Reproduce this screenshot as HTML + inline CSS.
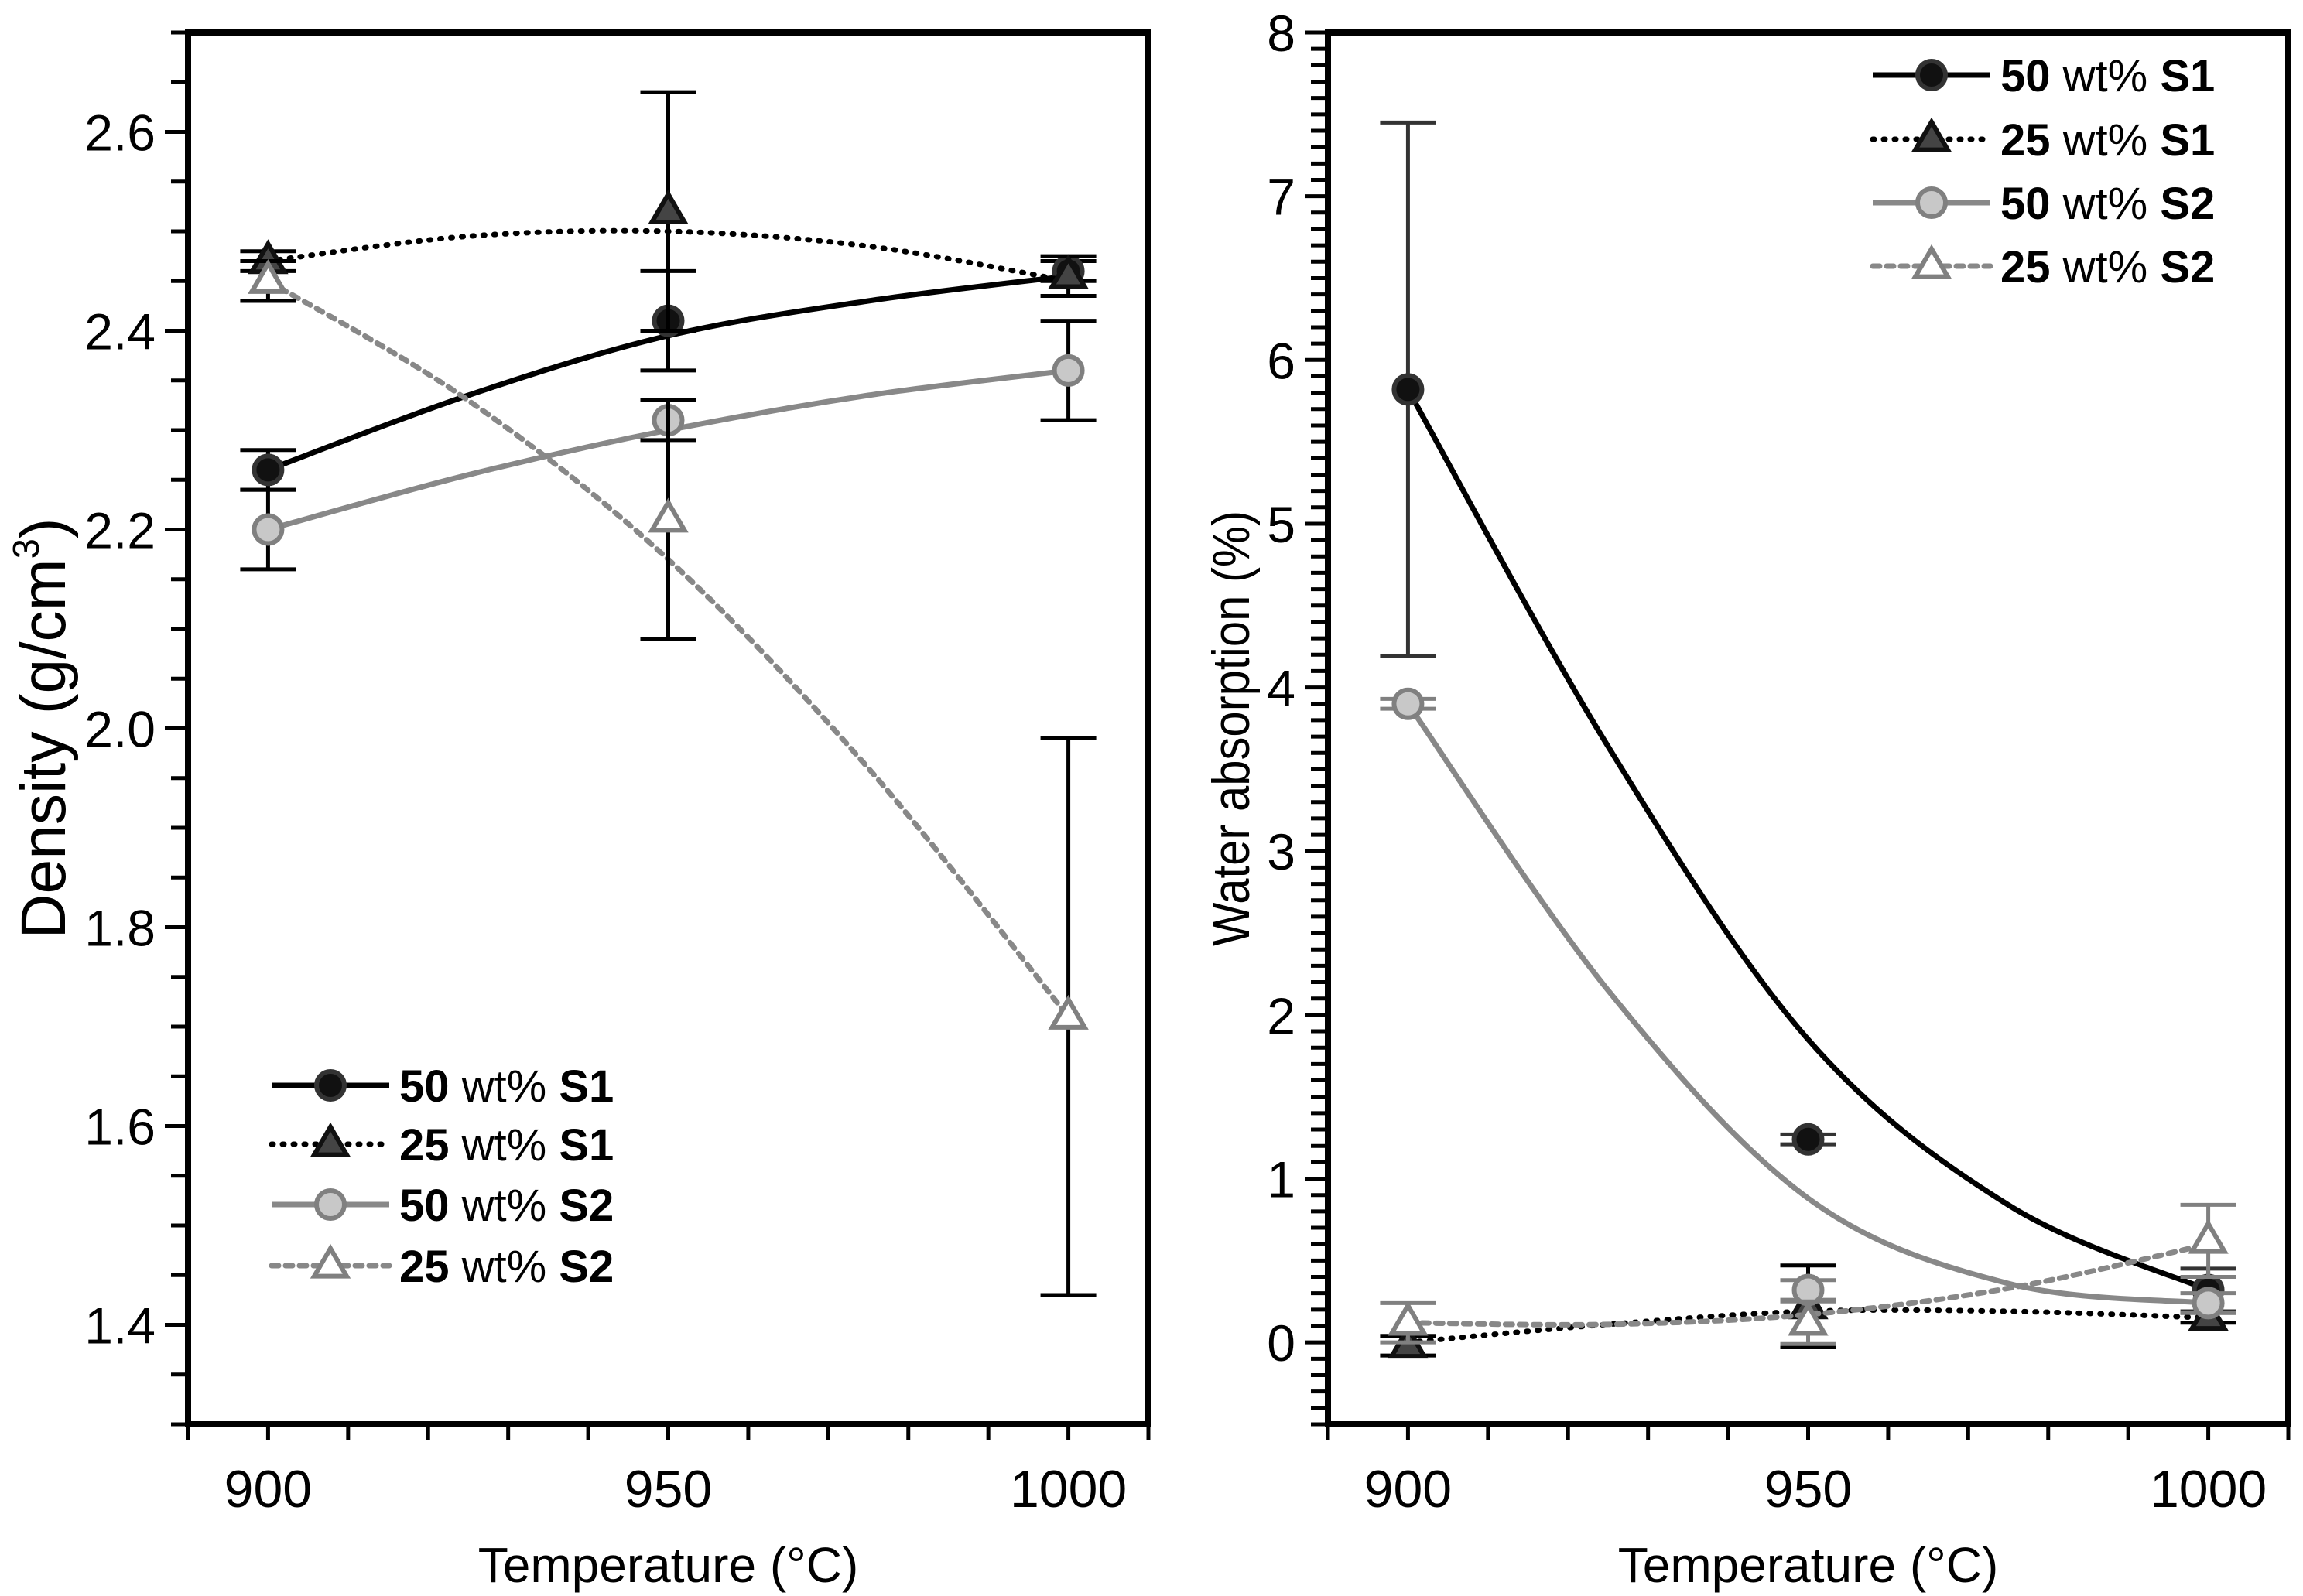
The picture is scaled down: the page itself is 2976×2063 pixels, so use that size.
<!DOCTYPE html>
<html><head><meta charset="utf-8"><style>
html,body{margin:0;padding:0;background:#fff;}
svg{display:block;}
text{font-family:"Liberation Sans",Arial,sans-serif;}
</style></head><body>
<svg id="fig" width="2976" height="2063" viewBox="0 0 2976 2063" xmlns="http://www.w3.org/2000/svg"></svg>
<script>
// ---------- data ----------
const temps = [900, 950, 1000];
const fitTemps = [900, 925, 950, 975, 1000];
// Density (left)
const dens50S1 = [2.26, 2.41, 2.46];
const dens50S1Err = [0.02, 0.05, 0.01];
const dens50S1Fit = [2.26, 2.335, 2.395, 2.43, 2.455];
const dens25S1 = [2.47, 2.52, 2.455];
const dens25S1Err = [0.01, 0.12, 0.02];
const dens25S1Fit = [2.47, 2.495, 2.50, 2.485, 2.45];
const dens50S2 = [2.20, 2.31, 2.36];
const dens50S2Err = [0.04, 0.02, 0.05];
const dens50S2Fit = [2.20, 2.255, 2.30, 2.335, 2.36];
const dens25S2 = [2.45, 2.21, 1.71];
const dens25S2Err = [0.02, 0.12, 0.28];
const dens25S2Fit = [2.45, 2.33, 2.17, 1.96, 1.71];
// Water absorption (right)
const wa50S1 = [5.82, 1.24, 0.32];
const wa50S1Err = [1.63, 0.03, 0.13];
const wa50S1Fit = [5.82, 3.64, 1.85, 0.84, 0.32];
const wa25S1 = [-0.02, 0.22, 0.15];
const wa25S1Err = [0.06, 0.25, 0.03];
const wa25S1Fit = [0.0, 0.11, 0.19, 0.19, 0.15];
const wa50S2 = [3.90, 0.32, 0.24];
const wa50S2Err = [0.03, 0.06, 0.06];
const wa50S2Fit = [3.90, 2.15, 0.88, 0.36, 0.24];
const wa25S2 = [0.12, 0.12, 0.62];
const wa25S2Err = [0.12, 0.13, 0.22];
const wa25S2Fit = [0.12, 0.11, 0.17, 0.33, 0.60];
const leftYTicks = ["1.4","1.6","1.8","2.0","2.2","2.4","2.6"];
const rightYTicks = ["0","1","2","3","4","5","6","7","8"];
const xTickLabels = ["900","950","1000"];

const NS = "http://www.w3.org/2000/svg";
const svg = document.getElementById('fig');
function el(tag, attrs, parent){
  const e = document.createElementNS(NS, tag);
  for (const k in attrs) e.setAttribute(k, attrs[k]);
  (parent||svg).appendChild(e);
  return e;
}
function catmull(pts){
  let d = 'M' + pts[0][0].toFixed(1) + ',' + pts[0][1].toFixed(1);
  for (let i=0;i<pts.length-1;i++){
    const p0 = pts[Math.max(0,i-1)], p1 = pts[i], p2 = pts[i+1], p3 = pts[Math.min(pts.length-1,i+2)];
    const c1x = p1[0] + (p2[0]-p0[0])/6, c1y = p1[1] + (p2[1]-p0[1])/6;
    const c2x = p2[0] - (p3[0]-p1[0])/6, c2y = p2[1] - (p3[1]-p1[1])/6;
    d += `C${c1x.toFixed(1)},${c1y.toFixed(1)} ${c2x.toFixed(1)},${c2y.toFixed(1)} ${p2[0].toFixed(1)},${p2[1].toFixed(1)}`;
  }
  return d;
}

function makePanel(cfg){
  const g = el('g', {});
  
  
  const {x0,x1,y0,y1,xmin,xmax,ymin,ymax} = cfg;
  const sx = v => x0 + (v - xmin)/(xmax - xmin)*(x1 - x0);
  const sy = v => y1 - (v - ymin)/(ymax - ymin)*(y1 - y0);
  const ty = el('g', {stroke:'#000','stroke-width':5}, g);
  
  
  const nMinor = Math.round((ymax - ymin)/cfg.yMinor);
  for (let i=0;i<=nMinor;i++){
    const v = ymin + i*cfg.yMinor;
    const isMaj = Math.abs((v - cfg.yMajorStart)/cfg.yMajor - Math.round((v - cfg.yMajorStart)/cfg.yMajor)) < 1e-6;
    el('line',{x1:x0 - (isMaj?30:22), x2:x0, y1:sy(v), y2:sy(v)}, ty);
  }
  cfg.yLabels.forEach(s=>{
    const v = parseFloat(s);
    const t = el('text',{x:x0-42, y:sy(v)+24, 'text-anchor':'end','font-size':66, fill:'#000'}, g);
    t.textContent = s;
    
    
  });
  const tx = el('g', {stroke:'#000','stroke-width':5}, g);
  
  
  for (let v=xmin; v<=xmax+0.01; v+=10){
    el('line',{x1:sx(v), x2:sx(v), y1:y1, y2:y1+20}, tx);
  }
  xTickLabels.forEach(s=>{
    const v = parseFloat(s);
    const t = el('text',{x:sx(v), y:1948, 'text-anchor':'middle','font-size':68, fill:'#000'}, g);
    t.textContent = s;
    
    
  });
  const xt = el('text',{x:(x0+x1)/2, y:2045, 'text-anchor':'middle','font-size':64, fill:'#000'}, g);
  xt.textContent = 'Temperature (°C)';
  
  
  const ytt = el('text',{x:0, y:0, 'text-anchor':'middle','font-size':cfg.yTitleSize, fill:'#000',
    transform:`translate(${cfg.yTitleX},${(y0+y1)/2}) rotate(-90) scale(${cfg.yTitleScale},1)`}, g);
  
  
  ytt.innerHTML = cfg.yTitle;

  cfg.series.forEach(s=>{
    const sg = el('g',{}, g);
    
    
    const pts = s.fit.map((v,i)=>[sx(fitTemps[i]), sy(v)]);
    const fl = el('path',{d:catmull(pts), fill:'none', stroke:s.lineColor, 'stroke-width':7, 'stroke-dasharray':s.dash||'none', 'stroke-linecap':s.dash?'round':'butt'}, sg);
    
    
    s.vals.forEach((v,i)=>{
      const e = s.err[i];
      const eg = el('g',{stroke:cfg.errColor||s.errColor,'stroke-width':5}, sg);
      
      
      const cx = sx(temps[i]);
      el('line',{x1:cx,x2:cx,y1:sy(v-e),y2:sy(v+e)}, eg);
      el('line',{x1:cx-36,x2:cx+36,y1:sy(v-e),y2:sy(v-e)}, eg);
      el('line',{x1:cx-36,x2:cx+36,y1:sy(v+e),y2:sy(v+e)}, eg);
    });
    s.vals.forEach((v,i)=>{
      const m = drawMarker(sg, s, sx(temps[i]), sy(v));
      
      
    });
  });
  const fr = el('rect',{x:x0,y:y0,width:x1-x0,height:y1-y0,fill:'none',stroke:'#000','stroke-width':8}, g);
  
  
  const lg = el('g',{}, g);
  
  
  cfg.series.forEach((s,i)=>{
    const yy = cfg.legY[i];
    const eg = el('g',{}, lg);
    
    
    el('line',{x1:cfg.legX, x2:cfg.legX+152, y1:yy, y2:yy, stroke:s.lineColor,'stroke-width':7,'stroke-dasharray':s.dash||'none','stroke-linecap':s.dash?'round':'butt'}, eg);
    drawMarker(eg, s, cfg.legX+76, yy);
    const t = el('text',{x:cfg.legX+165, y:yy+21,'font-size':58, fill:'#000'}, eg);
    t.innerHTML = `<tspan font-weight="bold">${s.pct}</tspan> wt% <tspan font-weight="bold">${s.sname}</tspan>`;
  });
}
function drawMarker(parent, s, cx, cy){
  if (s.shape==='circle'){
    return el('circle',{cx,cy,r:18,fill:s.fill,stroke:s.stroke,'stroke-width':6}, parent);
  }
  const h=36, w=42;
  return el('path',{d:`M${cx},${cy-h*0.62}L${cx+w/2},${cy+h*0.38}L${cx-w/2},${cy+h*0.38}Z`, fill:s.fill, stroke:s.stroke,'stroke-width':6,'stroke-linejoin':'miter'}, parent);
}
const styles = [
  {key:'50wt-s1', pct:'50', sname:'S1', shape:'circle', fill:'#111', stroke:'#333', lineColor:'#000', errColor:'#333'},
  {key:'25wt-s1', pct:'25', sname:'S1', shape:'tri', fill:'#444', stroke:'#111', lineColor:'#000', dash:'2 12', errColor:'#000'},
  {key:'50wt-s2', pct:'50', sname:'S2', shape:'circle', fill:'#c8c8c8', stroke:'#808080', lineColor:'#888', errColor:'#808080'},
  {key:'25wt-s2', pct:'25', sname:'S2', shape:'tri', fill:'#fff', stroke:'#808080', lineColor:'#888', dash:'9 9', errColor:'#808080'}
];
const leftData = [[dens50S1,dens50S1Err,dens50S1Fit],[dens25S1,dens25S1Err,dens25S1Fit],[dens50S2,dens50S2Err,dens50S2Fit],[dens25S2,dens25S2Err,dens25S2Fit]];
const rightData = [[wa50S1,wa50S1Err,wa50S1Fit],[wa25S1,wa25S1Err,wa25S1Fit],[wa50S2,wa50S2Err,wa50S2Fit],[wa25S2,wa25S2Err,wa25S2Fit]];
makePanel({name:'density-chart', x0:243,x1:1484,y0:42,y1:1841, xmin:890,xmax:1010, ymin:1.3,ymax:2.7,
  yMinor:0.05, yMajor:0.2, yMajorStart:1.4, yLabels:leftYTicks, errColor:'#000',
  yTitle:'Density (g/cm<tspan dy="-34" font-size="48">3</tspan><tspan dy="34">)</tspan>', yTitleX:84,
  yTitleSize:82, yTitleScale:0.98,
  legX:351, legY:[1403,1479,1557,1636],
  series: styles.map((s,i)=>Object.assign({}, s, {vals:leftData[i][0], err:leftData[i][1], fit:leftData[i][2]}))});
makePanel({name:'water-absorption-chart', x0:1716,x1:2957,y0:42,y1:1841, xmin:890,xmax:1010, ymin:-0.5,ymax:8,
  yMinor:0.1, yMajor:1, yMajorStart:0, yLabels:rightYTicks,
  yTitle:'Water absorption (%)', yTitleX:1614, yTitleSize:68, yTitleScale:0.88,
  legX:2420, legY:[97,180,262,344],
  series: styles.map((s,i)=>Object.assign({}, s, {vals:rightData[i][0], err:rightData[i][1], fit:rightData[i][2]}))});
</script>
</body></html>
